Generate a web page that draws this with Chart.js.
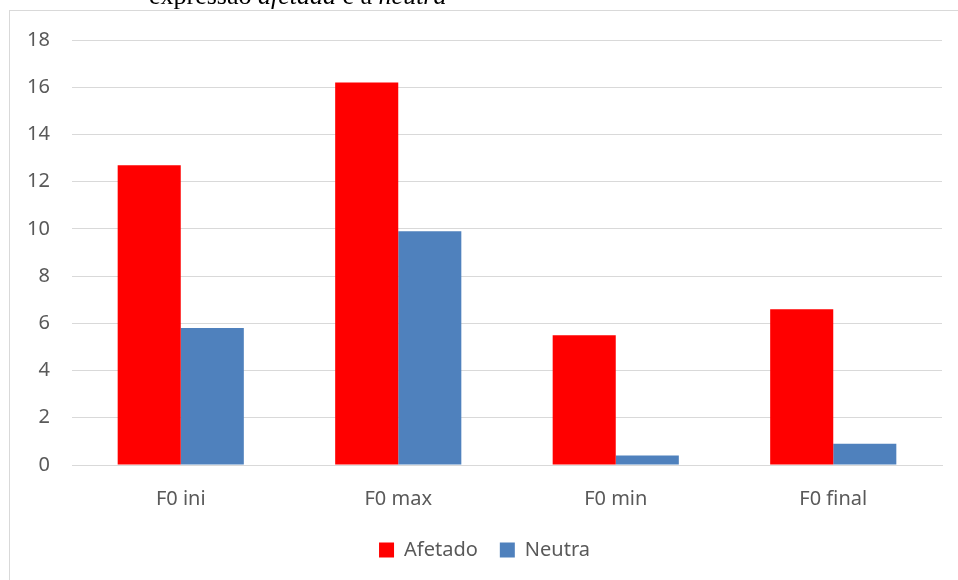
<!DOCTYPE html>
<html>
<head>
<meta charset="utf-8">
<script src="https://cdn.jsdelivr.net/npm/chart.js@4/dist/chart.umd.min.js"></script>
<style>
    html, body { margin: 0; padding: 0; background: #fff; overflow: hidden; }
    #wrap { position: relative; width: 958px; height: 580px; }
    #caption {
        position: absolute; left: 149px; top: -17px;
        font-family: "Liberation Serif", "Times New Roman", serif;
        font-size: 26px; line-height: 26px; color: #000; white-space: nowrap;
    }
    #caption i { font-style: italic; }
</style>
</head>
<body>
<div id="wrap">
    <canvas id="Canvas-Main" width="958" height="580"></canvas>
    <div id="caption">expressão <i>afetada</i> e a <i>neutra</i></div>
</div>
<script>
// F0 measures, affected vs neutral expression
var categories = ['F0 ini', 'F0 max', 'F0 min', 'F0 final'];
var afetado = [12.7, 16.2, 5.5, 6.6];
var neutra = [5.8, 9.9, 0.4, 0.9];
var yTicks = [0, 2, 4, 6, 8, 10, 12, 14, 16, 18];

var myChart;

// light grey frame round the chart area
var frame = {
    id: 'frame',
    beforeDraw: function (chart) {
        var ctx = chart.ctx;
        ctx.save();
        ctx.strokeStyle = '#d9d9d9';
        ctx.lineWidth = 1;
        ctx.strokeRect(9.5, 10.5, 1000, 1000);
        ctx.restore();
    }
};

window.onload = function () {
    var ctx = document.getElementById('Canvas-Main').getContext('2d');
    myChart = new Chart(ctx, {
        type: 'bar',
        data: {
            labels: categories,
            datasets: [
                {
                    label: 'Afetado',
                    data: afetado,
                    backgroundColor: '#ff0000',
                    borderWidth: 0
                },
                {
                    label: 'Neutra',
                    data: neutra,
                    backgroundColor: '#4f81bd',
                    borderWidth: 0
                }
            ]
        },
        options: {
            responsive: false,
            animation: false,
            layout: {
                padding: { left: 27, right: 16, top: 40, bottom: 10 }
            },
            datasets: {
                bar: { categoryPercentage: 0.58, barPercentage: 1.0 }
            },
            plugins: {
                legend: {
                    position: 'bottom',
                    labels: {
                        boxWidth: 15,
                        boxHeight: 15,
                        padding: 22,
                        color: '#595959',
                        font: { family: 'Noto Sans', size: 20 }
                    }
                },
                tooltip: { enabled: false },
                title: { display: false }
            },
            scales: {
                x: {
                    grid: { display: false, drawTicks: false },
                    border: { display: true, color: '#d9d9d9', width: 1 },
                    afterFit: function (axis) { axis.height = 53; },
                    ticks: {
                        padding: 22,
                        color: '#595959',
                        font: { family: 'Noto Sans', size: 20 }
                    }
                },
                y: {
                    min: 0,
                    max: 18,
                    afterBuildTicks: function (axis) {
                        axis.ticks = yTicks.map(function (v) { return { value: v }; });
                    },
                    afterFit: function (axis) { axis.width = 45; },
                    grid: { color: '#d9d9d9', lineWidth: 1, drawTicks: false },
                    border: { display: false },
                    ticks: {
                        padding: 22,
                        color: '#595959',
                        font: { family: 'Noto Sans', size: 20 }
                    }
                }
            }
        },
        plugins: [frame]
    });
};
</script>
</body>
</html>
